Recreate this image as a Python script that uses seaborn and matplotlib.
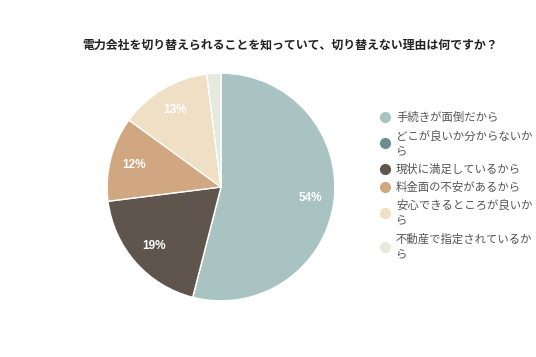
#!/usr/bin/env python3
import matplotlib
matplotlib.use("Agg")
import matplotlib.pyplot as plt
from matplotlib.lines import Line2D
import seaborn as sns

# reasons and shares (%)
labels = ["手続きが面倒だから", "どこが良いか分からないか\nら", "現状に満足しているから",
          "料金面の不安があるから", "安心できるところが良いか\nら", "不動産で指定されているか\nら"]
values = [54, 0, 19, 12, 13, 2]
colors = ["#a9c3c3", "#6b8c91", "#5f554c", "#d0a781", "#eedfc5", "#e6e9dd"]
title = "電力会社を切り替えられることを知っていて、切り替えない理由は何ですか？"

sns.set_theme(style="white")
plt.rcParams["font.family"] = ["Noto Sans CJK JP", "DejaVu Sans"]

fig = plt.figure(figsize=(5.36, 3.57), dpi=100)
ax = fig.add_axes([106 / 536, (357 - 187 - 115) / 357, 230 / 536, 230 / 357])

wedges, _, autotexts = ax.pie(
    values, colors=colors, startangle=90, counterclock=False,
    autopct=lambda p: f"{p:.0f}%" if p >= 5 else "", pctdistance=0.79,
    wedgeprops=dict(edgecolor="white", linewidth=1),
    textprops=dict(color="white", fontsize=8.5, fontweight="bold",
                   family=["Liberation Sans", "DejaVu Sans"]))
ax.set_xlim(-1.01, 1.01)
ax.set_ylim(-1.01, 1.01)
ax.set_aspect("equal")

fig.text(290 / 536, 1 - 45 / 357, title, ha="center", va="center",
         fontsize=8.6, fontweight="bold", color="#222222")

handles = [Line2D([0], [0], marker="o", linestyle="", markersize=7,
                  markerfacecolor=c, markeredgecolor=c) for c in colors]
leg = fig.legend(handles, labels, loc="upper left", bbox_to_anchor=(380 / 536, 1 - 112 / 357),
                 frameon=False, handlelength=0.9, handletextpad=0.5, labelspacing=0.6,
                 borderpad=0, borderaxespad=0, fontsize=8.2, labelcolor="#555555")
for t in leg.get_texts():
    t.set_linespacing(1.7)

fig.savefig("out.png", dpi=100)
